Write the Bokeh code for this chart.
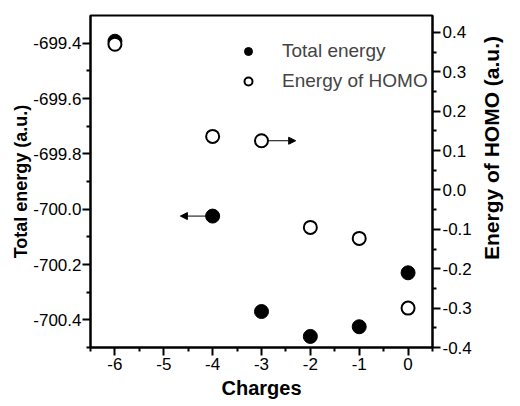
import math
from bokeh.plotting import figure
from bokeh.models import (Range1d, LinearAxis, FixedTicker, PrintfTickFormatter,
                          Legend, LegendItem, Arrow, NormalHead, Title)
from bokeh.embed import file_html
from bokeh.resources import INLINE

# ---- data ----
charges = [-6, -4, -3, -2, -1, 0]
total_energy = [-699.393, -700.025, -700.37, -700.46, -700.425, -700.23]
homo_energy = [0.37, 0.136, 0.125, -0.095, -0.123, -0.300]

x_ticks = [-6, -5, -4, -3, -2, -1, 0]
x_minor = [-6.5, -5.5, -4.5, -3.5, -2.5, -1.5, -0.5, 0.5]
left_ticks = [-700.4, -700.2, -700.0, -699.8, -699.6, -699.4]
left_minor = [-700.5, -700.3, -700.1, -699.9, -699.7, -699.5]
right_ticks = [-0.4, -0.3, -0.2, -0.1, 0.0, 0.1, 0.2, 0.3, 0.4]
right_minor = [-0.35, -0.25, -0.15, -0.05, 0.05, 0.15, 0.25, 0.35]

# arrows (start x, end x, y)
arrow_total = (-4.14, -4.66, -700.025)
arrow_homo = (-2.86, -2.30, 0.125)

FONT = "Liberation Sans"
TICK_SIZE = "17px"
# the right title starts at the bottom of the axis; lead it in with no-break spaces
RIGHT_TITLE = "\u00a0" * 15 + "Energy of HOMO (a.u.)"

p = figure(width=520, height=406, output_backend="svg", toolbar_location=None,
           x_range=Range1d(-6.5, 0.5), y_range=Range1d(-700.5, -699.3),
           min_border_left=90, min_border_right=88, min_border_top=15,
           min_border_bottom=59)
p.extra_y_ranges = {"homo": Range1d(-0.4, 0.443)}
p.xgrid.visible = False
p.ygrid.visible = False
p.outline_line_color = "black"
p.outline_line_width = 2
p.outline_line_alpha = 1.0
p.background_fill_color = "white"
p.border_fill_color = "white"

def style_axis(ax, ticks, minor, fmt):
    ax.ticker = FixedTicker(ticks=ticks, minor_ticks=minor)
    ax.formatter = PrintfTickFormatter(format=fmt)
    ax.axis_line_width = 2
    ax.axis_line_color = "black"
    ax.major_tick_out = 8
    ax.major_tick_in = 0
    ax.minor_tick_out = 4
    ax.minor_tick_in = 0
    ax.major_tick_line_width = 2
    ax.minor_tick_line_width = 2
    ax.major_tick_line_color = "black"
    ax.minor_tick_line_color = "black"
    ax.major_label_text_font = FONT
    ax.major_label_text_font_size = TICK_SIZE
    ax.major_label_text_color = "black"
    ax.major_label_standoff = 1

style_axis(p.xaxis[0], x_ticks, x_minor, "%d")
style_axis(p.yaxis[0], left_ticks, left_minor, "%.1f")
p.xaxis[0].major_label_standoff = 2
p.xaxis[0].axis_label = "Charges"
p.xaxis[0].axis_label_standoff = 4
p.xaxis[0].axis_label_text_font = FONT
p.xaxis[0].axis_label_text_font_size = "20px"
p.xaxis[0].axis_label_text_font_style = "bold"
p.xaxis[0].axis_label_text_color = "black"

ry = LinearAxis(y_range_name="homo")
style_axis(ry, right_ticks, right_minor, "%.1f")
ry.major_label_standoff = 2
p.add_layout(ry, "right")

# title axis on the right (no line, no ticks), reading bottom-to-top
ry_title = LinearAxis(y_range_name="homo",
                      ticker=FixedTicker(ticks=[], minor_ticks=[]),
                      axis_line_color=None, major_tick_line_color=None,
                      minor_tick_line_color=None,
                      axis_label=RIGHT_TITLE,
                      axis_label_orientation=math.pi / 2,
                      axis_label_align="start",
                      axis_label_standoff=17,
                      axis_label_text_font=FONT, axis_label_text_font_size="21px",
                      axis_label_text_font_style="bold", axis_label_text_color="black")
p.add_layout(ry_title, "right")

p.add_layout(Title(text="Total energy (a.u.)", align="center", offset=56, standoff=0,
                   text_font=FONT, text_font_size="18px", text_font_style="bold",
                   text_color="black"), "left")

r_total = p.scatter(charges, total_energy, size=14, marker="circle",
                    fill_color="black", line_color="black", line_width=1)
r_homo = p.scatter(charges, homo_energy, size=13, marker="circle",
                   fill_color="white", line_color="black", line_width=2,
                   y_range_name="homo")

legend = Legend(items=[LegendItem(label="Total energy", renderers=[r_total]),
                       LegendItem(label="Energy of HOMO", renderers=[r_homo])],
                location=(148, 255), border_line_alpha=0, background_fill_alpha=0,
                padding=0, margin=0, spacing=8, glyph_width=20, glyph_height=20,
                label_height=20, label_standoff=24,
                label_text_font=FONT, label_text_font_size="19px")
p.add_layout(legend, "center")

p.add_layout(Arrow(end=NormalHead(size=7, fill_color="black", line_color="black"),
                   x_start=arrow_total[0], x_end=arrow_total[1],
                   y_start=arrow_total[2], y_end=arrow_total[2], line_width=1))
p.add_layout(Arrow(end=NormalHead(size=7, fill_color="black", line_color="black"),
                   x_start=arrow_homo[0], x_end=arrow_homo[1],
                   y_start=arrow_homo[2], y_end=arrow_homo[2], line_width=1,
                   y_range_name="homo"))

open("out.html", "w").write(file_html(p, INLINE))
